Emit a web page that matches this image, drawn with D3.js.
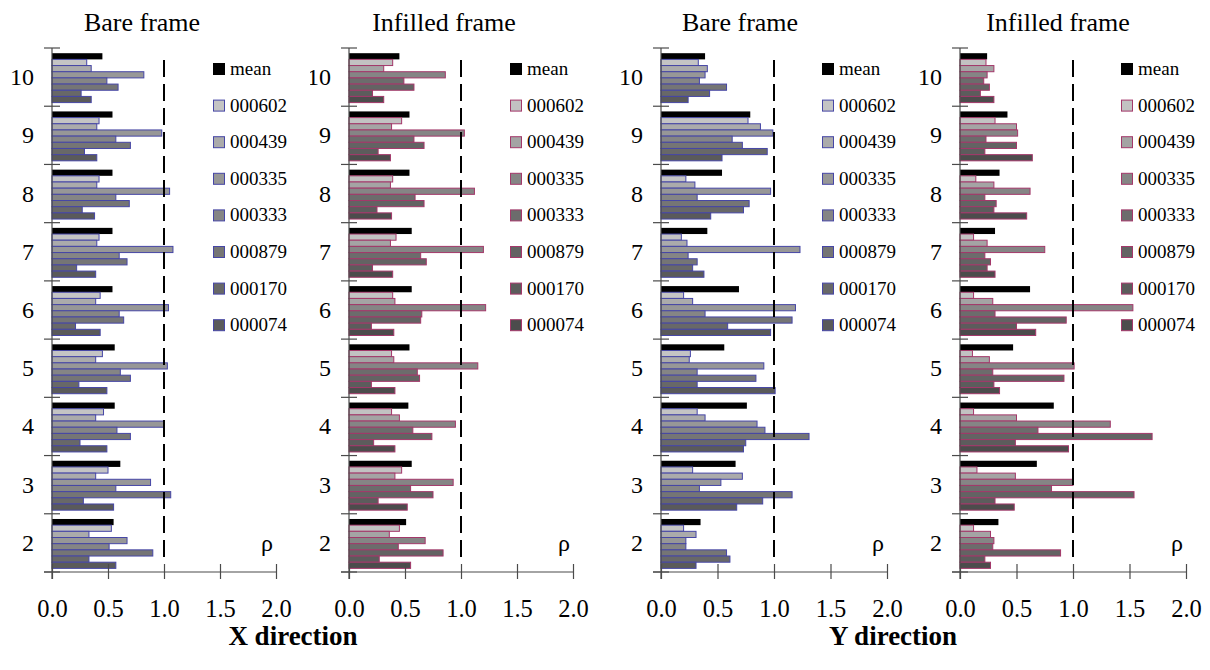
<!DOCTYPE html>
<html>
<head>
<meta charset="utf-8">
<script src="https://cdn.jsdelivr.net/npm/d3@7"></script>
<style>
  html, body { margin: 0; padding: 0; background: #fff; }
  svg { display: block; }
  svg text { font-family: "Liberation Serif", "Times New Roman", serif; }
</style>
</head>
<body>
<svg id="chart" width="1210" height="670"></svg>
<script>
// Storey levels (rows of each data table run from storey 2 up to storey 10)
const storeys = [2, 3, 4, 5, 6, 7, 8, 9, 10];
// Series: the mean followed by the seven ground-motion records
const seriesNames = ["mean", "000602", "000439", "000335", "000333", "000879", "000170", "000074"];
const xTicks = [0, 0.5, 1.0, 1.5, 2.0];

// ρ per storey, X direction, bare frame
const xBare = [
  [0.55, 0.53, 0.33, 0.67, 0.51, 0.90, 0.33, 0.57],
  [0.61, 0.50, 0.39, 0.88, 0.57, 1.06, 0.28, 0.55],
  [0.56, 0.46, 0.39, 1.00, 0.58, 0.70, 0.25, 0.49],
  [0.56, 0.45, 0.39, 1.03, 0.61, 0.70, 0.24, 0.49],
  [0.54, 0.43, 0.39, 1.04, 0.60, 0.64, 0.21, 0.43],
  [0.54, 0.42, 0.40, 1.08, 0.60, 0.67, 0.22, 0.39],
  [0.54, 0.42, 0.40, 1.05, 0.57, 0.69, 0.27, 0.38],
  [0.54, 0.42, 0.40, 0.98, 0.57, 0.70, 0.29, 0.40],
  [0.45, 0.31, 0.35, 0.82, 0.49, 0.59, 0.26, 0.35]
];
// ρ per storey, X direction, infilled frame
const xInfilled = [
  [0.51, 0.45, 0.36, 0.68, 0.44, 0.84, 0.27, 0.55],
  [0.56, 0.47, 0.41, 0.93, 0.55, 0.75, 0.26, 0.52],
  [0.53, 0.38, 0.45, 0.95, 0.57, 0.74, 0.22, 0.41],
  [0.54, 0.38, 0.40, 1.15, 0.61, 0.63, 0.20, 0.41],
  [0.56, 0.39, 0.41, 1.22, 0.65, 0.64, 0.20, 0.40],
  [0.56, 0.42, 0.37, 1.20, 0.64, 0.69, 0.21, 0.39],
  [0.54, 0.39, 0.37, 1.12, 0.59, 0.67, 0.25, 0.38],
  [0.54, 0.47, 0.38, 1.03, 0.58, 0.67, 0.26, 0.37],
  [0.45, 0.39, 0.31, 0.86, 0.49, 0.58, 0.21, 0.31]
];
// ρ per storey, Y direction, bare frame
const yBare = [
  [0.35, 0.20, 0.31, 0.22, 0.22, 0.58, 0.61, 0.31],
  [0.66, 0.28, 0.72, 0.53, 0.34, 1.16, 0.90, 0.67],
  [0.76, 0.32, 0.39, 0.85, 0.92, 1.31, 0.75, 0.73],
  [0.56, 0.26, 0.25, 0.91, 0.32, 0.84, 0.32, 1.01],
  [0.69, 0.20, 0.28, 1.19, 0.39, 1.16, 0.59, 0.97],
  [0.41, 0.18, 0.23, 1.23, 0.24, 0.32, 0.28, 0.38],
  [0.54, 0.22, 0.30, 0.97, 0.32, 0.78, 0.73, 0.44],
  [0.79, 0.77, 0.88, 0.99, 0.63, 0.72, 0.94, 0.54],
  [0.39, 0.33, 0.41, 0.39, 0.34, 0.58, 0.43, 0.24]
];
// ρ per storey, Y direction, infilled frame
const yInfilled = [
  [0.34, 0.12, 0.27, 0.30, 0.29, 0.89, 0.22, 0.27],
  [0.68, 0.15, 0.49, 1.00, 0.81, 1.54, 0.31, 0.48],
  [0.83, 0.12, 0.50, 1.33, 0.69, 1.70, 0.49, 0.96],
  [0.47, 0.11, 0.26, 1.01, 0.29, 0.92, 0.30, 0.35],
  [0.62, 0.12, 0.29, 1.53, 0.31, 0.94, 0.50, 0.67],
  [0.31, 0.12, 0.24, 0.75, 0.22, 0.27, 0.24, 0.31],
  [0.35, 0.14, 0.30, 0.62, 0.22, 0.32, 0.30, 0.59],
  [0.42, 0.31, 0.50, 0.51, 0.23, 0.50, 0.22, 0.64],
  [0.24, 0.23, 0.30, 0.24, 0.21, 0.26, 0.18, 0.30]
];

// Fill shades per frame type (mean is solid black)
const bareFills = ["#000000", "#c4c4c4", "#ababab", "#979797", "#858585", "#757575", "#686868", "#5a5a5a"];
const infillFills = ["#000000", "#c2c2c2", "#a4a4a4", "#858585", "#6c6c6c", "#636363", "#5c5c5c", "#4c4c4c"];

const panels = [
  { title: "Bare frame",     data: xBare,     x0: 52,  x1: 276,  titleX: 142,  stroke: "#4646a6", fills: bareFills,   clipLeft: 0 },
  { title: "Infilled frame", data: xInfilled, x0: 349, x1: 573,  titleX: 444,  stroke: "#a3386a", fills: infillFills, clipLeft: 310 },
  { title: "Bare frame",     data: yBare,     x0: 661, x1: 887,  titleX: 740,  stroke: "#4646a6", fills: bareFills,   clipLeft: 600 },
  { title: "Infilled frame", data: yInfilled, x0: 960, x1: 1186, titleX: 1058, stroke: "#a3386a", fills: infillFills, clipLeft: 900 }
];

const svg = d3.select("#chart");
const plotTop = 48, plotBottom = 572;
const axisColor = "#4a4a4a";
const serif = "'Liberation Serif', 'Times New Roman', serif";

const yOuter = d3.scaleBand()
  .domain(storeys.slice().reverse().map(String))
  .range([plotTop, plotBottom]);
const yInner = d3.scaleBand()
  .domain(seriesNames)
  .range([5.2, 5.2 + 49.4]);

const defs = svg.append("defs");

panels.forEach((p, pi) => {
  defs.append("clipPath").attr("id", "clip" + pi)
    .append("rect").attr("x", p.clipLeft).attr("y", 0).attr("width", 1210).attr("height", 670);

  const g = svg.append("g").attr("clip-path", `url(#clip${pi})`);
  const x = d3.scaleLinear().domain([0, 2]).range([p.x0, p.x1]);

  // panel title
  g.append("text")
    .attr("x", p.titleX).attr("y", 31)
    .attr("text-anchor", "middle")
    .attr("font-family", serif)
    .attr("font-size", 26)
    .text(p.title);

  // bars, one group per storey
  const rows = g.append("g").selectAll("g.storey")
    .data(storeys.map((s, i) => ({ storey: String(s), values: p.data[i] })))
    .join("g")
    .attr("class", "storey")
    .attr("transform", d => `translate(0,${yOuter(d.storey)})`);

  rows.selectAll("rect")
    .data(d => d.values.map((v, k) => ({ key: seriesNames[k], k, v })))
    .join("rect")
    .attr("x", x(0))
    .attr("y", d => yInner(d.key))
    .attr("width", d => x(d.v) - x(0))
    .attr("height", yInner.bandwidth())
    .attr("fill", d => p.fills[d.k])
    .attr("stroke", d => d.k === 0 ? "none" : p.stroke)
    .attr("stroke-width", 1);

  // reference line at ρ = 1.0
  g.append("line")
    .attr("x1", x(1)).attr("x2", x(1))
    .attr("y1", 60).attr("y2", 560)
    .attr("stroke", "#000")
    .attr("stroke-width", 2)
    .attr("stroke-dasharray", "17,7");

  // vertical axis with boundary ticks between storeys
  g.append("line")
    .attr("x1", x(0)).attr("x2", x(0))
    .attr("y1", plotTop).attr("y2", plotBottom + 7)
    .attr("stroke", axisColor).attr("stroke-width", 1.2);
  const bounds = yOuter.domain().map(d => yOuter(d)).concat([plotBottom]);
  g.selectAll("line.ytick")
    .data(bounds)
    .join("line")
    .attr("class", "ytick")
    .attr("x1", x(0) - 8).attr("x2", x(0) + 8)
    .attr("y1", d => d).attr("y2", d => d)
    .attr("stroke", axisColor).attr("stroke-width", 1.2);

  g.selectAll("text.ylab")
    .data(yOuter.domain())
    .join("text")
    .attr("class", "ylab")
    .attr("x", x(0) - 18)
    .attr("y", d => yOuter(d) + yOuter.bandwidth() / 2 + 8)
    .attr("text-anchor", "end")
    .attr("font-family", serif)
    .attr("font-size", 24)
    .text(d => d);

  // horizontal axis
  const xAxis = d3.axisBottom(x)
    .tickValues(xTicks)
    .tickFormat(d3.format(".1f"))
    .tickSizeOuter(0);
  const ax = g.append("g")
    .attr("transform", `translate(0,${plotBottom})`)
    .call(xAxis)
    .attr("font-family", serif);
  ax.select(".domain").remove();
  ax.selectAll(".tick line")
    .attr("y1", -8).attr("y2", 7)
    .attr("stroke", axisColor).attr("stroke-width", 1.2);
  ax.selectAll(".tick text")
    .attr("y", 45).attr("dy", 0)
    .attr("fill", "#000")
    .attr("font-family", serif)
    .attr("font-size", 24.5);
  g.append("line")
    .attr("x1", x(0) - 8).attr("x2", x(2))
    .attr("y1", plotBottom).attr("y2", plotBottom)
    .attr("stroke", axisColor).attr("stroke-width", 1.2);

  // axis symbol
  g.append("text")
    .attr("x", x(1.92)).attr("y", 551)
    .attr("text-anchor", "middle")
    .attr("font-family", serif)
    .attr("font-size", 24)
    .text("ρ");

  // legend
  const lg = g.append("g").attr("transform", `translate(${p.x0 + 161},0)`);
  const items = lg.selectAll("g.item")
    .data(seriesNames)
    .join("g")
    .attr("class", "item")
    .attr("transform", (d, i) => `translate(0,${69 + i * 36.6})`);
  items.append("rect")
    .attr("x", 0.5).attr("y", -5.5)
    .attr("width", 11).attr("height", 11)
    .attr("fill", (d, i) => p.fills[i])
    .attr("stroke", (d, i) => i === 0 ? "#000" : p.stroke)
    .attr("stroke-width", 1);
  items.append("text")
    .attr("x", 17).attr("y", 6)
    .attr("font-family", serif)
    .attr("font-size", 19)
    .text(d => d);
});

// direction captions
svg.append("text")
  .attr("x", 293).attr("y", 645)
  .attr("text-anchor", "middle")
  .attr("font-family", serif)
  .attr("font-size", 27).attr("font-weight", "bold")
  .text("X direction");
svg.append("text")
  .attr("x", 893).attr("y", 645)
  .attr("text-anchor", "middle")
  .attr("font-family", serif)
  .attr("font-size", 27).attr("font-weight", "bold")
  .text("Y direction");
</script>
</body>
</html>
